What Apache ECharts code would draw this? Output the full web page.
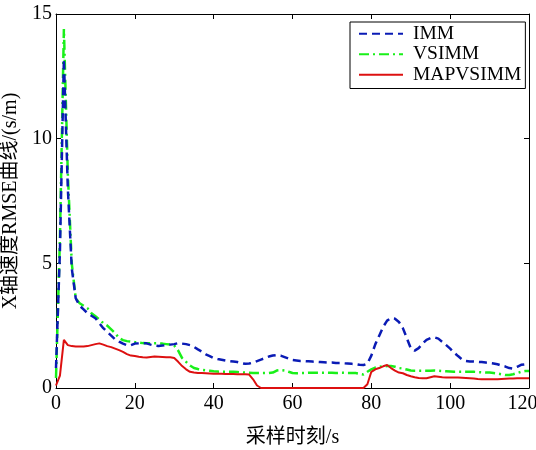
<!DOCTYPE html>
<html>
<head>
<meta charset="utf-8">
<script src="https://cdn.jsdelivr.net/npm/echarts@6/dist/echarts.min.js"></script>
<style>
  html, body { margin: 0; padding: 0; background: #fff; }
  #chart { width: 536px; height: 450px; }
</style>
</head>
<body>
<div id="chart"></div>
<script>
// 采样时刻 0..120 s
var times = [];
for (var i = 0; i <= 120; i++) times.push(i);

var xTicks = [0, 20, 40, 60, 80, 100, 120];
var yTicks = [0, 5, 10, 15];

var seriesNames = ["IMM", "VSIMM", "MAPVSIMM"];

var immData = [
  0.8, 5.5, 13.2, 8.0, 4.8, 3.6, 3.3, 3.15, 3.0, 2.9,
  2.8, 2.6, 2.4, 2.25, 2.1, 1.95, 1.86, 1.78, 1.72, 1.72,
  1.78, 1.79, 1.8, 1.79, 1.74, 1.7, 1.68, 1.7, 1.72, 1.74,
  1.76, 1.8, 1.78, 1.76, 1.72, 1.65, 1.55, 1.46, 1.35, 1.28,
  1.2, 1.16, 1.13, 1.1, 1.08, 1.06, 1.04, 1.0, 0.97, 0.98,
  1.02, 1.08, 1.14, 1.2, 1.26, 1.3, 1.32, 1.3, 1.24, 1.18,
  1.12, 1.1, 1.08, 1.08, 1.07, 1.06, 1.05, 1.04, 1.03, 1.02,
  1.02, 1.0, 1.0, 0.99, 0.98, 0.97, 0.96, 0.93, 0.92, 0.98,
  1.3, 1.75, 2.1, 2.45, 2.7, 2.8, 2.78, 2.65, 2.4, 2.0,
  1.6, 1.5, 1.6, 1.78, 1.93, 2.0, 2.03, 1.98, 1.85, 1.72,
  1.58, 1.42, 1.28, 1.15, 1.08, 1.06, 1.06, 1.05, 1.04, 1.02,
  1.0, 0.98, 0.95, 0.9, 0.86, 0.8, 0.78, 0.85, 0.93, 0.95,
  0.9
];

var vsimmData = [
  0.4, 6.0, 14.4, 8.6, 5.0, 3.6, 3.4, 3.3, 3.2, 3.0,
  2.88, 2.75, 2.6, 2.5, 2.35, 2.2, 2.0, 1.92, 1.88, 1.86,
  1.84, 1.82, 1.8, 1.79, 1.79, 1.79, 1.79, 1.78, 1.76, 1.74,
  1.7, 1.5, 1.2, 1.05, 0.9, 0.8, 0.76, 0.73, 0.71, 0.69,
  0.67, 0.66, 0.65, 0.65, 0.65, 0.65, 0.64, 0.63, 0.62, 0.61,
  0.6, 0.6, 0.6, 0.6, 0.6, 0.62, 0.7, 0.72, 0.7, 0.65,
  0.6, 0.59, 0.6, 0.6, 0.61, 0.61, 0.61, 0.61, 0.61, 0.61,
  0.61, 0.6, 0.61, 0.61, 0.6, 0.6, 0.6, 0.57, 0.54, 0.65,
  0.75, 0.82, 0.85, 0.87, 0.88, 0.88, 0.85, 0.8, 0.78, 0.74,
  0.7, 0.69, 0.69, 0.69, 0.69, 0.69, 0.7, 0.69, 0.68, 0.67,
  0.66, 0.65, 0.65, 0.65, 0.65, 0.65, 0.65, 0.64, 0.63, 0.62,
  0.62, 0.6, 0.58, 0.55, 0.52, 0.52, 0.55, 0.6, 0.65, 0.68,
  0.68
];

var mapData = [
  0.1, 0.5, 1.93, 1.72, 1.68, 1.66, 1.66, 1.66, 1.68, 1.72,
  1.76, 1.79, 1.74, 1.68, 1.64, 1.58, 1.52, 1.45, 1.36, 1.3,
  1.28, 1.25, 1.23, 1.22, 1.24, 1.26, 1.25, 1.24, 1.23, 1.23,
  1.2, 1.05, 0.88, 0.75, 0.65, 0.62, 0.6, 0.6, 0.59, 0.58,
  0.57, 0.57, 0.57, 0.56, 0.56, 0.56, 0.55, 0.55, 0.55, 0.54,
  0.35, 0.1, 0, 0, 0, 0, 0, 0, 0, 0,
  0, 0, 0, 0, 0, 0, 0, 0, 0, 0,
  0, 0, 0, 0, 0, 0, 0, 0, 0, 0.15,
  0.65, 0.75, 0.8, 0.87, 0.92, 0.8, 0.7, 0.62, 0.59, 0.52,
  0.47, 0.43, 0.4, 0.39, 0.39, 0.43, 0.47, 0.45, 0.43, 0.42,
  0.42, 0.42, 0.42, 0.41, 0.4, 0.39, 0.38, 0.36, 0.35, 0.35,
  0.35, 0.35, 0.35, 0.36, 0.37, 0.38, 0.38, 0.39, 0.39, 0.39,
  0.39
];

function pairs(vals) {
  return times.map(function (t, k) { return [t, vals[k]]; });
}

var fontFam = '"Liberation Serif", "Noto Sans CJK SC", serif';

var chart = echarts.init(document.getElementById("chart"));

var axisCommon = {
  axisLine: { show: true, onZero: false, lineStyle: { color: "#000", width: 1 } },
  axisTick: { show: true, inside: true, length: 5, lineStyle: { color: "#000" } },
  splitLine: { show: false },
  axisLabel: { color: "#000", fontSize: 20, fontFamily: fontFam }
};

chart.setOption({
  animation: false,
  backgroundColor: "#fff",
  grid: { left: 56, right: 7, top: 14, bottom: 62, containLabel: false, outerBoundsMode: "none" },
  legend: {
    orient: "vertical",
    left: 350,
    top: 22,
    padding: [2, 4, 4, 8],
    itemWidth: 44,
    itemHeight: 14,
    itemGap: 1,
    backgroundColor: "#fff",
    borderColor: "#000",
    borderWidth: 1,
    itemStyle: { opacity: 0 },
    textStyle: { color: "#000", fontSize: 19.5, fontFamily: fontFam, padding: [0, 0, 0, 5] },
    data: seriesNames
  },
  xAxis: [
    Object.assign({}, axisCommon, {
      type: "value",
      min: 0, max: 120, interval: 20,
      name: "采样时刻/s",
      nameLocation: "middle",
      nameGap: 40,
      nameTextStyle: { color: "#000", fontSize: 20, fontFamily: fontFam },
      axisLabel: Object.assign({}, axisCommon.axisLabel, {
        margin: 6,
        formatter: function (v) {
          if (xTicks.indexOf(v) < 0) return "";
          // 最后一个刻度稍微左移，避免被裁掉
          return v === 120 ? "{last|" + v + "}" : String(v);
        },
        rich: {
          last: { color: "#000", fontSize: 20, fontFamily: fontFam, padding: [0, 13, 0, 0] }
        }
      })
    }),
    Object.assign({}, axisCommon, {
      type: "value", position: "top",
      min: 0, max: 120, interval: 20,
      axisLabel: { show: false }
    })
  ],
  yAxis: [
    Object.assign({}, axisCommon, {
      type: "value",
      min: 0, max: 15, interval: 5,
      name: "X轴速度RMSE曲线/(s/m)",
      nameLocation: "middle",
      nameGap: 26,
      nameTextStyle: { color: "#000", fontSize: 20, fontFamily: fontFam },
      axisLabel: Object.assign({}, axisCommon.axisLabel, {
        margin: 4,
        formatter: function (v) { return yTicks.indexOf(v) >= 0 ? String(v) : ""; }
      })
    }),
    Object.assign({}, axisCommon, {
      type: "value", position: "right",
      min: 0, max: 15, interval: 5,
      axisLabel: { show: false }
    })
  ],
  series: [
    {
      name: "IMM",
      type: "line",
      symbol: "none",
      z: 4,
      data: pairs(immData),
      itemStyle: { color: "#0a1bb5" },
      lineStyle: { color: "#0a1bb5", width: 2.5, type: [8, 5] }
    },
    {
      name: "VSIMM",
      type: "line",
      symbol: "none",
      z: 3,
      data: pairs(vsimmData),
      itemStyle: { color: "#19f019" },
      lineStyle: { color: "#19f019", width: 2.5, type: [10, 4, 2, 4] }
    },
    {
      name: "MAPVSIMM",
      type: "line",
      symbol: "none",
      z: 5,
      data: pairs(mapData),
      itemStyle: { color: "#dd1010" },
      lineStyle: { color: "#dd1010", width: 2 }
    }
  ]
});
</script>
</body>
</html>
